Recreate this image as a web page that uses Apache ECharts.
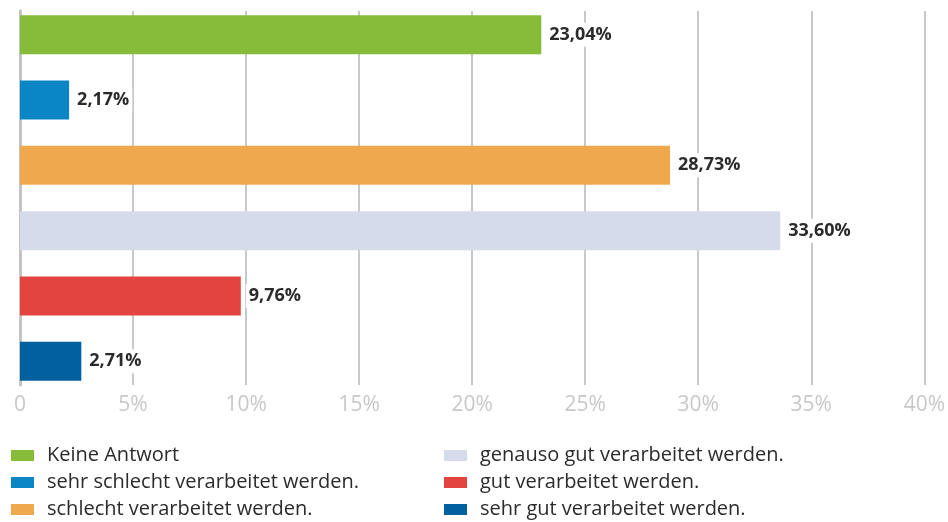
<!DOCTYPE html>
<html>
<head>
<meta charset="utf-8">
<script src="https://cdn.jsdelivr.net/npm/echarts@6/dist/echarts.min.js"></script>
<style>
  html, body { margin: 0; padding: 0; background: #fff; }
  .chart { width: 948px; height: 522px; }
</style>
</head>
<body>
<div class="chart"></div>
<script>
// Daten
var categories = [
    'Keine Antwort',
    'sehr schlecht verarbeitet werden.',
    'schlecht verarbeitet werden.',
    'genauso gut verarbeitet werden.',
    'gut verarbeitet werden.',
    'sehr gut verarbeitet werden.'
];
var values = [23.04, 2.17, 28.73, 33.60, 9.76, 2.71];
var colors = ['#86bc3a', '#0b86c5', '#f0a84c', '#d5dbeb', '#e4443f', '#03609f'];
var xTicks = [0, 5, 10, 15, 20, 25, 30, 35, 40];

var fontName = '"Open Sans", "Noto Sans", sans-serif';

function fmt(v) {
    return v.toFixed(2).replace('.', ',') + '%';
}

// eine Serie pro Kategorie, damit die Legende jede Farbe zeigt
var series = categories.map(function (name, i) {
    var data = values.map(function (v, j) { return j === i ? v : '-'; });
    return {
        name: name,
        type: 'bar',
        stack: 'all',
        xAxisIndex: 0,
        yAxisIndex: 0,
        barWidth: 39,
        itemStyle: { color: colors[i] },
        label: {
            show: true,
            position: 'right',
            distance: 5,
            color: '#2b2b2b',
            fontFamily: fontName,
            fontSize: 18,
            fontWeight: 'bold',
            backgroundColor: '#fff',
            padding: [3, 3],
            formatter: function (p) { return fmt(p.value); }
        },
        data: data
    };
});

function legendFor(names, left) {
    return {
        orient: 'vertical',
        left: left,
        top: 445,
        height: 77,
        padding: 0,
        itemWidth: 23,
        itemHeight: 11,
        itemGap: 6,
        icon: 'rect',
        data: names,
        textStyle: { color: '#2b2b2b', fontFamily: fontName, fontSize: 20, lineHeight: 21, padding: [0, 0, 0, 8] }
    };
}

var myChart = echarts.init(document.querySelector('.chart'));
var option = {
    animation: false,
    legend: [legendFor(categories.slice(0, 3), 11), legendFor(categories.slice(3), 444)],
    grid: [
        { left: 20, right: 23, top: 2, height: 392 },
        { left: 20, right: 23, top: 11, height: 374 }
    ],
    xAxis: [{
        gridIndex: 0,
        type: 'value',
        min: xTicks[0],
        max: xTicks[xTicks.length - 1],
        interval: 5,
        show: false
    }, {
        gridIndex: 1,
        type: 'value',
        min: xTicks[0],
        max: xTicks[xTicks.length - 1],
        interval: 5,
        axisLine: { show: false },
        axisTick: { show: false },
        splitLine: { show: true, lineStyle: { color: '#c8c8c8', width: 2 } },
        axisLabel: {
            color: '#c8c8c8',
            fontFamily: fontName,
            fontSize: 21,
            margin: 10,
            formatter: function (v) { return v === 0 ? '0' : v + '%'; }
        }
    }],
    yAxis: [{
        gridIndex: 0,
        type: 'category',
        inverse: true,
        data: categories,
        show: false
    }, {
        gridIndex: 1,
        type: 'value',
        min: 0,
        max: 1,
        axisLine: { show: true, lineStyle: { color: '#c4c4c4', width: 3 } },
        axisTick: { show: false },
        axisLabel: { show: false },
        splitLine: { show: false }
    }],
    series: series
};

myChart.setOption(option);
</script>
</body>
</html>
